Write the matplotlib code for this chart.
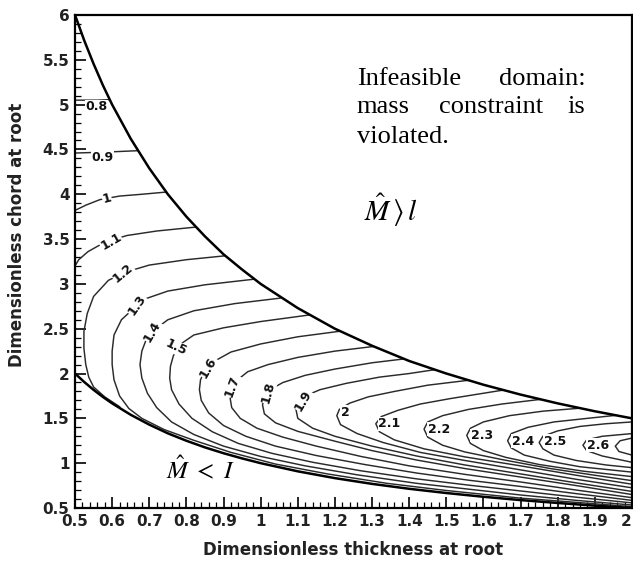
import matplotlib
matplotlib.use("Agg")
import matplotlib.pyplot as plt
from matplotlib.patches import Polygon
from matplotlib.ticker import FixedLocator, FixedFormatter, MultipleLocator

# ---------------- data ----------------
boundary_x = [0.50, 0.525, 0.55, 0.575, 0.60, 0.65, 0.70, 0.75, 0.80, 0.85, 0.90, 0.95,
              1.00, 1.10, 1.20, 1.30, 1.40, 1.50, 1.60, 1.70, 1.80, 1.90, 2.00]
upper_y = [6.00, 5.714, 5.455, 5.217, 5.00, 4.62, 4.29, 4.00, 3.75, 3.53, 3.33, 3.16,
           3.00, 2.73, 2.50, 2.31, 2.14, 2.00, 1.875, 1.765, 1.667, 1.579, 1.50]
lower_y = [2.00, 1.905, 1.818, 1.739, 1.667, 1.54, 1.43, 1.333, 1.25, 1.176, 1.111, 1.053,
           1.00, 0.909, 0.833, 0.769, 0.714, 0.667, 0.625, 0.588, 0.556, 0.526, 0.50]

c_0_8 = [(0.50, 5.05), (0.56, 5.05), (0.62, 5.06)]
c_0_9 = [(0.50, 4.46), (0.58, 4.47), (0.69, 4.49)]
c_1_0 = [(0.50, 3.82), (0.53, 3.88), (0.567, 3.94), (0.62, 3.98), (0.68, 4.00), (0.76, 4.03)]
c_1_1 = [(0.50, 3.20), (0.51, 3.27), (0.535, 3.36), (0.565, 3.43), (0.60, 3.49), (0.64, 3.54),
         (0.72, 3.59), (0.84, 3.64)]
c_1_2 = [(0.92, 3.32), (0.80, 3.27), (0.70, 3.21), (0.635, 3.13), (0.59, 3.04), (0.55, 2.86),
         (0.533, 2.67), (0.524, 2.47), (0.524, 2.28), (0.529, 2.10), (0.537, 1.96), (0.55, 1.85),
         (0.58, 1.74), (0.62, 1.63)]
c_1_3 = [(1.00, 3.06), (0.977, 3.05), (0.85, 2.99), (0.75, 2.92), (0.694, 2.84), (0.667, 2.76),
         (0.625, 2.60), (0.605, 2.43), (0.600, 2.25), (0.600, 2.10), (0.605, 1.93), (0.62, 1.75),
         (0.645, 1.61), (0.68, 1.50), (0.74, 1.375), (0.82, 1.255), (0.92, 1.12), (1.04, 0.99),
         (1.18, 0.88), (1.34, 0.775), (1.50, 0.695), (1.70, 0.61), (2.00, 0.515)]
c_1_4 = [(1.07, 2.86), (1.05, 2.84), (0.93, 2.78), (0.82, 2.70), (0.75, 2.60), (0.708, 2.47),
         (0.69, 2.36), (0.68, 2.25), (0.675, 2.10), (0.68, 1.95), (0.695, 1.78), (0.72, 1.62),
         (0.76, 1.46), (0.82, 1.32), (0.90, 1.19), (1.00, 1.075), (1.12, 0.97), (1.26, 0.87),
         (1.42, 0.775), (1.56, 0.71), (1.70, 0.645), (1.85, 0.585), (2.00, 0.533)]
c_1_5 = [(1.14, 2.66), (1.125, 2.65), (1.00, 2.58), (0.90, 2.51), (0.82, 2.43), (0.785, 2.33),
         (0.765, 2.20), (0.757, 2.08), (0.755, 1.95), (0.76, 1.82), (0.78, 1.66), (0.815, 1.50),
         (0.87, 1.35), (0.94, 1.22), (1.03, 1.11), (1.14, 1.01), (1.27, 0.915), (1.42, 0.825),
         (1.56, 0.755), (1.70, 0.69), (1.85, 0.62), (2.00, 0.557)]
c_1_6 = [(1.23, 2.48), (1.21, 2.47), (1.10, 2.41), (1.00, 2.33), (0.92, 2.24), (0.872, 2.13),
         (0.848, 2.02), (0.838, 1.93), (0.835, 1.82), (0.84, 1.70), (0.86, 1.56), (0.90, 1.42),
         (0.96, 1.30), (1.04, 1.19), (1.15, 1.085), (1.28, 0.985), (1.42, 0.89), (1.56, 0.81),
         (1.70, 0.74), (1.85, 0.66), (2.00, 0.585)]
c_1_7 = [(1.32, 2.31), (1.30, 2.30), (1.20, 2.25), (1.10, 2.18), (1.02, 2.10), (0.965, 2.02),
         (0.935, 1.92), (0.922, 1.82), (0.918, 1.72), (0.922, 1.62), (0.945, 1.50), (0.99, 1.39),
         (1.06, 1.29), (1.15, 1.19), (1.27, 1.075), (1.40, 0.97), (1.55, 0.875), (1.70, 0.79),
         (1.85, 0.70), (2.00, 0.615)]
c_1_8 = [(1.40, 2.17), (1.30, 2.12), (1.20, 2.05), (1.12, 1.98), (1.06, 1.90), (1.025, 1.82),
         (1.01, 1.74), (1.005, 1.65), (1.01, 1.55), (1.04, 1.45), (1.10, 1.355), (1.20, 1.245),
         (1.30, 1.14), (1.42, 1.035), (1.55, 0.94), (1.70, 0.845), (1.85, 0.75), (2.00, 0.65)]
c_1_9 = [(1.48, 2.05), (1.40, 2.00), (1.32, 1.96), (1.23, 1.89), (1.16, 1.82), (1.12, 1.75),
         (1.10, 1.67), (1.095, 1.60), (1.10, 1.50), (1.14, 1.39), (1.20, 1.30), (1.30, 1.19),
         (1.42, 1.08), (1.55, 0.98), (1.70, 0.88), (1.85, 0.78), (2.00, 0.685)]
c_2_0 = [(1.57, 1.93), (1.45, 1.87), (1.36, 1.80), (1.29, 1.74), (1.24, 1.67), (1.212, 1.60),
         (1.205, 1.53), (1.215, 1.43), (1.26, 1.33), (1.33, 1.23), (1.43, 1.12), (1.55, 1.03),
         (1.70, 0.925), (1.85, 0.82), (2.00, 0.725)]
c_2_1 = [(1.67, 1.82), (1.645, 1.81), (1.51, 1.72), (1.43, 1.66), (1.37, 1.59), (1.325, 1.52),
         (1.31, 1.44), (1.32, 1.35), (1.36, 1.26), (1.44, 1.16), (1.55, 1.07), (1.70, 0.97),
         (1.85, 0.865), (2.00, 0.765)]
c_2_2 = [(1.77, 1.72), (1.65, 1.66), (1.56, 1.60), (1.49, 1.53), (1.45, 1.46), (1.44, 1.38),
         (1.45, 1.29), (1.49, 1.20), (1.55, 1.125), (1.65, 1.04), (1.78, 0.94), (1.90, 0.865),
         (2.00, 0.805)]
c_2_3 = [(1.88, 1.62), (1.76, 1.58), (1.67, 1.53), (1.60, 1.46), (1.565, 1.39), (1.555, 1.31),
         (1.565, 1.22), (1.60, 1.14), (1.66, 1.065), (1.75, 0.985), (1.87, 0.91), (2.00, 0.85)]
c_2_4 = [(2.00, 1.55), (1.96, 1.535), (1.88, 1.50), (1.79, 1.46), (1.72, 1.40), (1.675, 1.33),
         (1.665, 1.25), (1.675, 1.17), (1.71, 1.09), (1.78, 1.02), (1.86, 0.96), (2.00, 0.90)]
c_2_5 = [(2.00, 1.46), (1.93, 1.44), (1.86, 1.41), (1.80, 1.36), (1.76, 1.30), (1.75, 1.23),
         (1.76, 1.16), (1.79, 1.09), (1.85, 1.03), (1.93, 0.98), (2.00, 0.95)]
c_2_6 = [(2.00, 1.33), (1.92, 1.30), (1.878, 1.26), (1.868, 1.20), (1.878, 1.14), (1.92, 1.08),
         (2.00, 1.01)]
c_2_7 = [(2.00, 1.28), (1.968, 1.25), (1.955, 1.19), (1.965, 1.13), (2.00, 1.09)]

label_text = ['0.8', '0.9', '1', '1.1', '1.2', '1.3', '1.4', '1.5', '1.6', '1.7', '1.8', '1.9',
              '2', '2.1', '2.2', '2.3', '2.4', '2.5', '2.6']
label_x = [0.558, 0.574, 0.586, 0.597, 0.630, 0.667, 0.708, 0.772, 0.858, 0.923, 1.020, 1.114,
           1.227, 1.347, 1.480, 1.595, 1.706, 1.792, 1.908]
label_y = [4.98, 4.41, 3.95, 3.47, 3.12, 2.76, 2.47, 2.29, 2.07, 1.86, 1.79, 1.70,
           1.57, 1.44, 1.38, 1.31, 1.245, 1.245, 1.20]
label_rot = [0, 0, 15, 30, 40, 55, 60, -25, 60, 70, 75, 60, 0, 0, 0, 0, 0, 0, 0]

xtick_values = [0.5, 0.6, 0.7, 0.8, 0.9, 1.0, 1.1, 1.2, 1.3, 1.4, 1.5, 1.6, 1.7, 1.8, 1.9, 2.0]
xtick_labels = ['0.5', '0.6', '0.7', '0.8', '0.9', '1', '1.1', '1.2', '1.3', '1.4', '1.5',
                '1.6', '1.7', '1.8', '1.9', '2']
ytick_values = [0.5, 1.0, 1.5, 2.0, 2.5, 3.0, 3.5, 4.0, 4.5, 5.0, 5.5, 6.0]
ytick_labels = ['0.5', '1', '1.5', '2', '2.5', '3', '3.5', '4', '4.5', '5', '5.5', '6']

contour_lines = [c_0_8, c_0_9, c_1_0, c_1_1, c_1_2, c_1_3, c_1_4, c_1_5, c_1_6, c_1_7, c_1_8,
                 c_1_9, c_2_0, c_2_1, c_2_2, c_2_3, c_2_4, c_2_5, c_2_6, c_2_7]

# ---------------- figure ----------------
plt.rcParams['mathtext.fontset'] = 'stix'
fig = plt.figure(figsize=(6.33, 5.66), dpi=100)
ax = fig.add_axes([0.1185, 0.1025, 0.8799, 0.871])
ax.set_xlim(0.5, 2.0)
ax.set_ylim(0.5, 6.0)

region = [(x, y) for x, y in zip(boundary_x, upper_y)] + \
         [(x, y) for x, y in zip(boundary_x[::-1], lower_y[::-1])]
clip_patch = Polygon(region, closed=True, transform=ax.transData, facecolor='none',
                     edgecolor='none')

for pts in contour_lines:
    xs = [p[0] for p in pts]
    ys = [p[1] for p in pts]
    ln, = ax.plot(xs, ys, color='#2a2a2a', lw=1.05, solid_joinstyle='round', zorder=2)
    ln.set_clip_path(clip_patch)

ax.plot(boundary_x, upper_y, color='black', lw=1.8, zorder=3)
ax.plot(boundary_x, lower_y, color='black', lw=1.8, zorder=3)

for t, x, y, r in zip(label_text, label_x, label_y, label_rot):
    ax.text(x, y, t, rotation=r, ha='center', va='center', fontsize=9, fontweight='bold',
            family='DejaVu Sans', color='#111111', zorder=4,
            bbox=dict(facecolor='white', edgecolor='none', pad=0.3))

# annotations
serif = 'Liberation Serif'
fs = 19
ax.text(1.259, 5.219, 'Infeasible', ha='left', va='baseline', fontsize=fs, family=serif)
ax.text(1.874, 5.219, 'domain:', ha='right', va='baseline', fontsize=fs, family=serif)
ax.text(1.259, 4.906, 'mass', ha='left', va='baseline', fontsize=fs, family=serif)
ax.text(1.620, 4.906, 'constraint', ha='center', va='baseline', fontsize=fs, family=serif)
ax.text(1.874, 4.906, 'is', ha='right', va='baseline', fontsize=fs, family=serif)
ax.text(1.259, 4.571, 'violated.', ha='left', va='baseline', fontsize=fs, family=serif)

ax.text(1.351, 3.82, r'$\hat{M}\,\rangle\, l$', ha='center', va='center', fontsize=21)
ax.text(0.837, 0.93, r'$\hat{M}\ <\ I$', ha='center', va='center', fontsize=18)

# axes styling
for s in ax.spines.values():
    s.set_linewidth(1.6)
ax.xaxis.set_major_locator(FixedLocator(xtick_values))
ax.xaxis.set_major_formatter(FixedFormatter(xtick_labels))
ax.yaxis.set_major_locator(FixedLocator(ytick_values))
ax.yaxis.set_major_formatter(FixedFormatter(ytick_labels))
ax.xaxis.set_minor_locator(MultipleLocator(0.02))
ax.yaxis.set_minor_locator(MultipleLocator(0.1))
ax.tick_params(which='both', direction='in', top=False, right=False)
ax.tick_params(which='major', length=8, width=1.2, pad=4)
ax.tick_params(which='minor', length=4, width=0.9)
for lab in ax.get_xticklabels() + ax.get_yticklabels():
    lab.set_fontweight('bold')
    lab.set_fontsize(11)
    lab.set_family('DejaVu Sans')
    lab.set_color('#222222')
ax.get_xticklabels()[-1].set_horizontalalignment('right')

ax.set_xlabel('Dimensionless thickness at root', fontsize=12, fontweight='bold',
              family='DejaVu Sans', color='#222222')
ax.set_ylabel('Dimensionless chord at root', fontsize=12, fontweight='bold',
              family='DejaVu Sans', color='#222222')
ax.xaxis.set_label_coords(0.5, -0.066)
ax.yaxis.set_label_coords(-0.088, 0.554)

fig.savefig('out.png', dpi=100)
